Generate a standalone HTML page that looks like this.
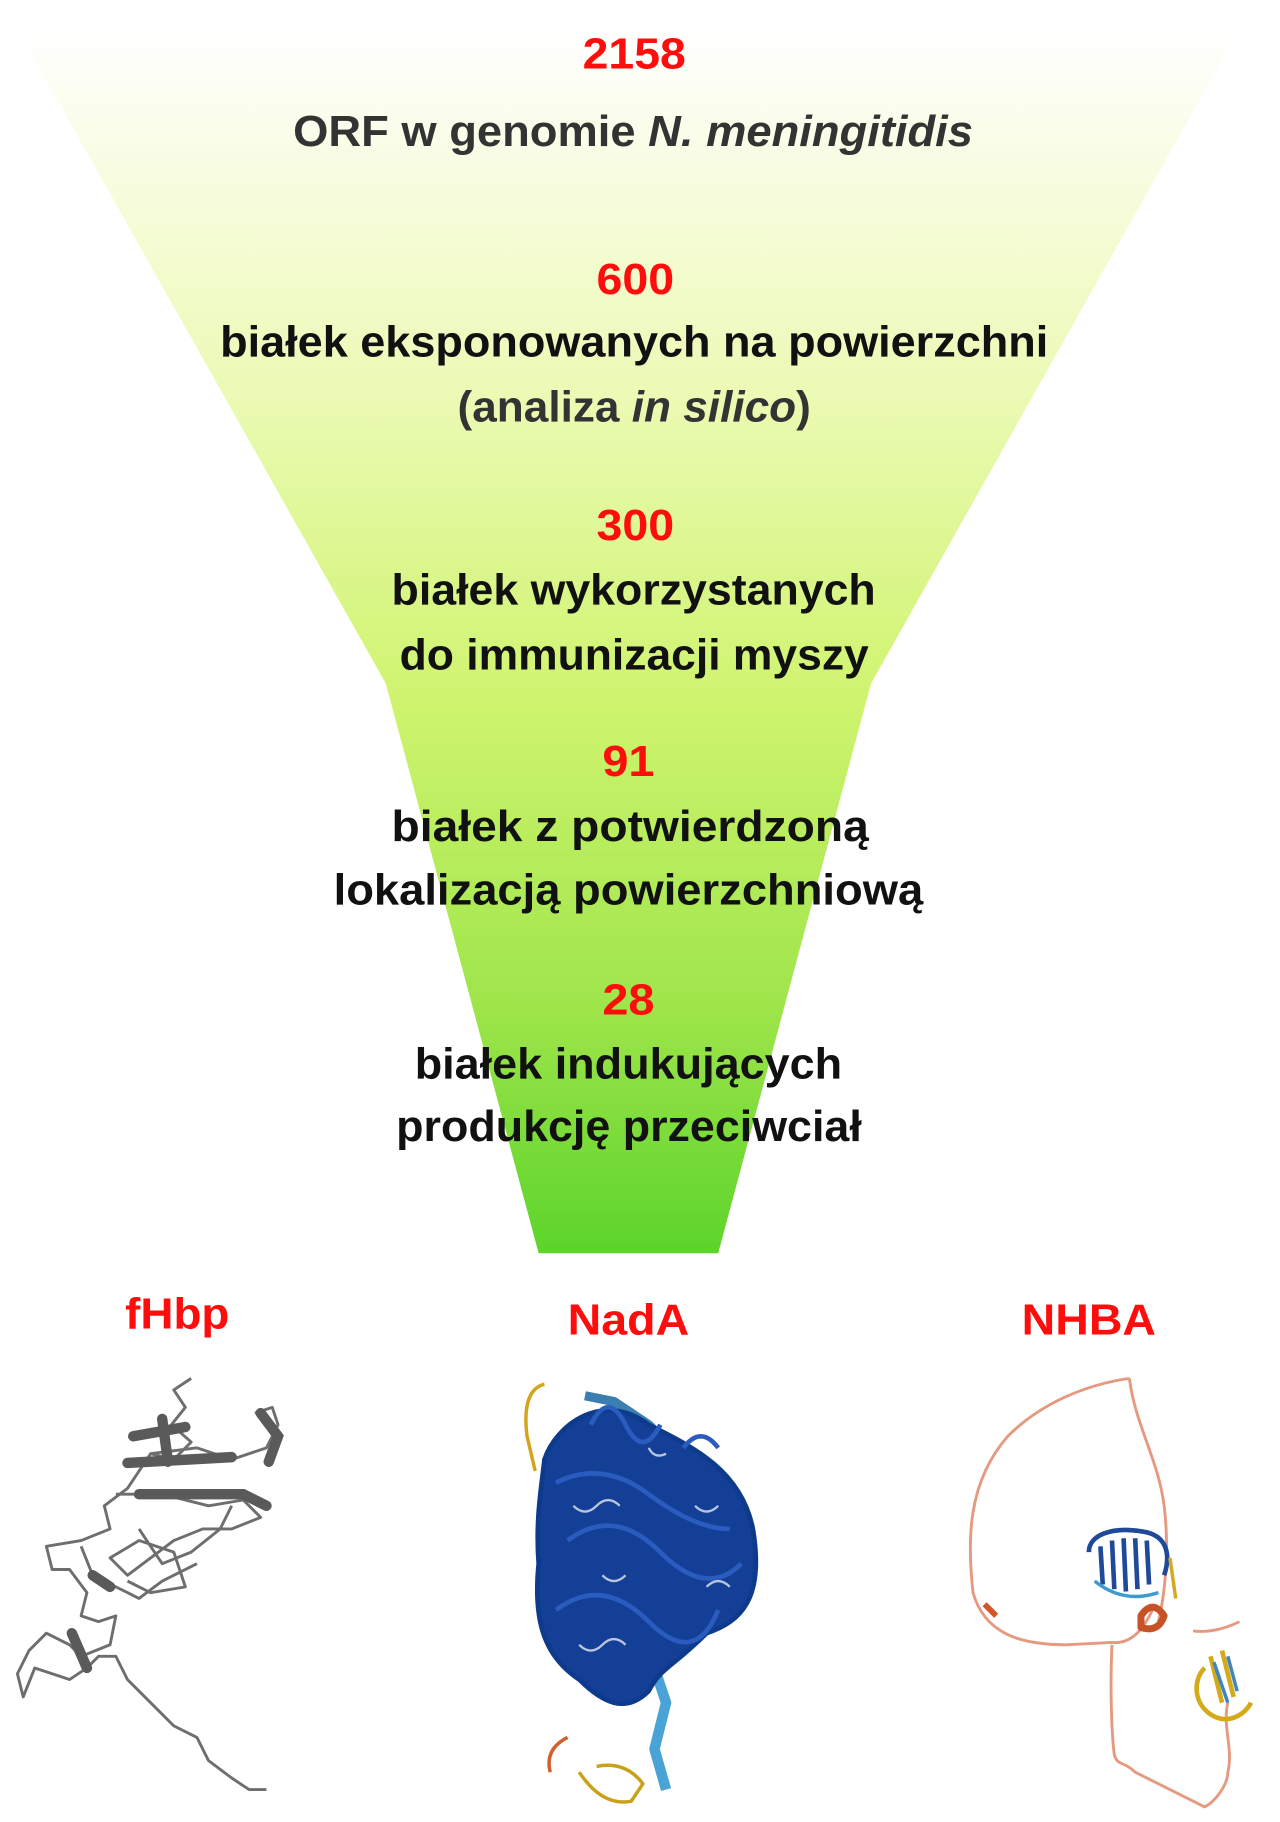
<!DOCTYPE html>
<html><head><meta charset="utf-8"><style>
html,body{margin:0;padding:0;background:#fff}
svg{display:block}
text{font-family:"Liberation Sans",sans-serif;font-weight:bold}
.r{fill:#ff0d0d}.k{fill:#111}.g{fill:#333}
</style></head><body>
<svg width="1280" height="1822" viewBox="0 0 1105 1573" xmlns="http://www.w3.org/2000/svg">
<defs>
<linearGradient id="fg" x1="0" y1="25" x2="0" y2="1082" gradientUnits="userSpaceOnUse">
<stop offset="0" stop-color="#ffffff"/>
<stop offset="0.12" stop-color="#f8fce0"/>
<stop offset="0.3" stop-color="#ebfab4"/>
<stop offset="0.55" stop-color="#cff46e"/>
<stop offset="0.8" stop-color="#9ee54a"/>
<stop offset="1" stop-color="#5cd42a"/>
</linearGradient>
</defs>
<polygon points="15,25 1070,25 752,590 620,1082 465,1082 333,590" fill="url(#fg)"/>

<text class="r" x="503" y="59" font-size="38" textLength="89" lengthAdjust="spacingAndGlyphs">2158</text>
<text class="g" x="253" y="126" font-size="38" textLength="587" lengthAdjust="spacingAndGlyphs">ORF w genomie <tspan font-style="italic">N. meningitidis</tspan></text>
<text class="r" x="515" y="254" font-size="38" textLength="67" lengthAdjust="spacingAndGlyphs">600</text>
<text class="k" x="190" y="308" font-size="38" textLength="715" lengthAdjust="spacingAndGlyphs">białek eksponowanych na powierzchni</text>
<text class="g" x="395" y="364" font-size="38" textLength="305" lengthAdjust="spacingAndGlyphs">(analiza <tspan font-style="italic">in silico</tspan>)</text>
<text class="r" x="515" y="466" font-size="38" textLength="67" lengthAdjust="spacingAndGlyphs">300</text>
<text class="k" x="338" y="522" font-size="38" textLength="418" lengthAdjust="spacingAndGlyphs">białek wykorzystanych</text>
<text class="k" x="345" y="578" font-size="38" textLength="405" lengthAdjust="spacingAndGlyphs">do immunizacji myszy</text>
<text class="r" x="520" y="670" font-size="38" textLength="45" lengthAdjust="spacingAndGlyphs">91</text>
<text class="k" x="338" y="726" font-size="38" textLength="412" lengthAdjust="spacingAndGlyphs">białek z potwierdzoną</text>
<text class="k" x="288" y="781" font-size="38" textLength="509" lengthAdjust="spacingAndGlyphs">lokalizacją powierzchniową</text>
<text class="r" x="520" y="876" font-size="38" textLength="45" lengthAdjust="spacingAndGlyphs">28</text>
<text class="k" x="358" y="931" font-size="38" textLength="369" lengthAdjust="spacingAndGlyphs">białek indukujących</text>
<text class="k" x="342" y="985" font-size="38" textLength="402" lengthAdjust="spacingAndGlyphs">produkcję przeciwciał</text>

<text class="r" x="108" y="1147" font-size="38" textLength="90" lengthAdjust="spacingAndGlyphs">fHbp</text>
<text class="r" x="490" y="1152" font-size="38" textLength="105" lengthAdjust="spacingAndGlyphs">NadA</text>
<text class="r" x="882" y="1152" font-size="38" textLength="116" lengthAdjust="spacingAndGlyphs">NHBA</text>

<!-- fHbp -->
<g fill="none" stroke="#6e6e6e" stroke-width="2.5" stroke-linejoin="round">
<path d="M165,1190 L150,1200 160,1215 148,1230 165,1245 150,1260 130,1255 110,1285 90,1300 95,1320 70,1330 40,1335 45,1355 60,1355 75,1375 70,1395 85,1400 100,1395 95,1420 70,1430 60,1420 40,1410 25,1425 15,1445 20,1465 30,1440 60,1450 75,1440 85,1430 100,1430 110,1450 130,1470 150,1490 170,1500 180,1520 200,1535 215,1545 230,1545"/>
<path d="M130,1255 L170,1250 200,1260 230,1250 240,1230 235,1215 220,1220"/>
<path d="M100,1290 L140,1290 180,1300 210,1295 225,1310 200,1320 175,1320 150,1330 130,1345 110,1360 95,1345 120,1330 150,1340 160,1370 130,1375 110,1365"/>
<path d="M120,1320 L140,1350 165,1340 190,1320 200,1300"/>
<path d="M70,1335 L80,1360 100,1370 120,1380 140,1365 170,1350"/>
</g>
<g fill="none" stroke="#5a5a5a" stroke-width="9" stroke-linecap="round">
<path d="M115,1240 L160,1232 M110,1263 L200,1258 M140,1225 L145,1262 M120,1290 L210,1290 L230,1300 M225,1220 L240,1240 L232,1262 M80,1360 L95,1370 M62,1410 L75,1440"/>
</g>

<!-- NadA -->
<g fill="none" stroke-linejoin="round">
<path d="M470,1195 Q450,1200 455,1240 L462,1270" stroke="#d4a51a" stroke-width="3"/>
<path d="M490,1500 Q470,1510 475,1530" stroke="#d0602e" stroke-width="3"/>
<path d="M500,1530 Q520,1560 545,1555 L555,1540 Q540,1520 515,1525" stroke="#c8a21a" stroke-width="3"/>
<path d="M565,1440 L575,1470 565,1510 575,1545" stroke="#4aa3d6" stroke-width="9"/>
<path d="M505,1205 L530,1210 560,1230 575,1245" stroke="#3a7fb0" stroke-width="8"/>
<path d="M470,1260 C480,1230 520,1200 560,1230 C600,1250 640,1270 650,1320 C660,1380 640,1400 610,1410 C580,1440 570,1440 560,1460 C540,1480 520,1470 500,1450 C470,1430 460,1400 465,1350 C462,1310 468,1280 470,1260 Z" fill="#143f96" stroke="#0e3a8c" stroke-width="4"/>
<g stroke="#2a5cc0" stroke-width="4">
<path d="M480,1280 Q520,1260 560,1290 T630,1320"/>
<path d="M490,1330 Q530,1300 570,1340 T640,1350"/>
<path d="M480,1390 Q520,1360 560,1400 T620,1390"/>
<path d="M510,1230 q15,-30 30,0 q15,30 30,0"/>
<path d="M590,1250 q15,-20 30,0"/>
</g>
<g stroke="#ffffff" stroke-width="2" opacity="0.7">
<path d="M495,1300 q10,10 20,0 q10,-10 20,0"/>
<path d="M520,1360 q10,10 20,0"/>
<path d="M600,1300 q10,10 20,0"/>
<path d="M500,1420 q10,10 20,0 q10,-10 20,0"/>
<path d="M560,1250 q5,10 15,5"/>
<path d="M610,1370 q10,-10 20,0"/>
</g>
</g>

<!-- NHBA -->
<g fill="none" stroke-linejoin="round">
<path d="M975,1190 C940,1195 900,1210 870,1240 C835,1280 835,1330 840,1375 C850,1410 880,1420 920,1420 L960,1418 C980,1420 990,1400 995,1390 M975,1190 C980,1230 1000,1260 1005,1300 C1010,1340 1005,1380 1000,1400 M960,1420 C958,1460 960,1500 962,1515 C965,1525 970,1520 980,1530 C1000,1540 1020,1550 1040,1560 C1050,1555 1060,1540 1060,1530 C1065,1510 1055,1490 1060,1470 M1030,1408 C1045,1410 1060,1405 1070,1400" stroke="#e59a80" stroke-width="2.5"/>
<path d="M850,1385 L860,1395" stroke="#d2562a" stroke-width="5"/>
<path d="M985,1395 q10,-15 20,0 q-5,15 -20,10 z" stroke="#c65228" stroke-width="6"/>
<path d="M940,1340 C940,1325 960,1318 985,1322 C1010,1325 1010,1345 1005,1360 M950,1335 L952,1368 M960,1330 L962,1372 M970,1328 L972,1374 M980,1328 L982,1372 M990,1330 L992,1368" stroke="#1f4a9a" stroke-width="4"/>
<path d="M945,1365 Q970,1385 1000,1375" stroke="#3d9bd0" stroke-width="3"/>
<path d="M1010,1345 L1015,1380" stroke="#d4a820" stroke-width="3"/>
<path d="M1040,1440 C1030,1450 1030,1470 1045,1480 C1060,1490 1075,1480 1080,1470 M1045,1430 L1055,1470 M1055,1425 L1065,1465" stroke="#d4aa1a" stroke-width="4"/>
<path d="M1048,1435 L1060,1470 M1060,1430 L1068,1460" stroke="#3e86c0" stroke-width="3"/>
</g>
</svg>
</body></html>
